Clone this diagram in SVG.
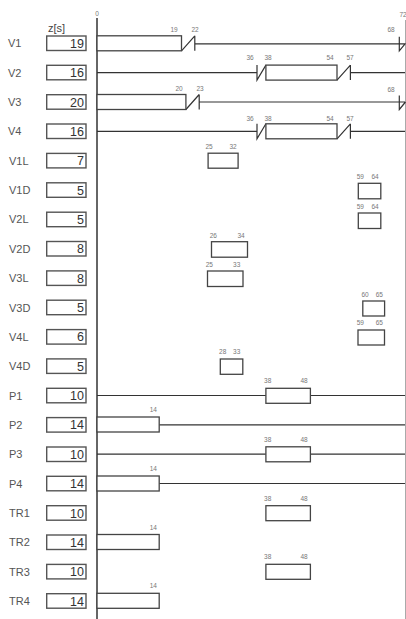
<svg xmlns="http://www.w3.org/2000/svg" width="406" height="619" viewBox="0 0 406 619">
<style>
.bg{fill:#fff}
.lbl{font-family:"Liberation Sans",Arial,sans-serif;font-size:11px;fill:#555}
.val{font-family:"Liberation Sans",Arial,sans-serif;font-size:12.5px;fill:#333;text-anchor:end}
.hd{font-family:"Liberation Sans",Arial,sans-serif;font-size:11px;fill:#444}
.t{font-family:"Liberation Sans",Arial,sans-serif;font-size:6.5px;fill:#777;text-anchor:middle}
.vb{fill:#fff;stroke:#555;stroke-width:1.4}
.bx{fill:#fff;stroke:#444;stroke-width:1.3}
.ln{fill:none;stroke:#333;stroke-width:1.2}
.ax{stroke:#333;stroke-width:1.5}
.rb{stroke:#aaa;stroke-width:1}
</style>
<rect class="bg" x="0" y="0" width="406" height="619"/>
<g id="axes">
<line class="ax" x1="97" y1="18" x2="97" y2="619"/>
<line class="rb" x1="405.5" y1="20" x2="405.5" y2="619"/>
<text class="t" x="97" y="15.5">0</text>
<text class="t" x="403" y="17">72</text>
<text class="hd" x="48" y="32">z[s]</text>
</g>
<g id="connectors">
<!-- V1 -->
<path class="ln" d="M181.5,50.8 L194.8,35.8 M194.8,35.8 V50.8 M194.8,43.8 H405 M399.3,36.8 V50.8 L405.5,43.3"/>
<!-- V2 -->
<path class="ln" d="M97,72.6 H257 M257,65.1 V80.1 L265.9,65.1 M337,80.1 L350.4,65.1 M350.4,65.1 V80.1 M350.4,72.6 H405"/>
<!-- V3 -->
<path class="ln" d="M185.9,109.5 L199.2,94.5 M199.2,94.5 V109.5 M199.2,102 H405 M399.3,95.5 V109.5 L405.5,102"/>
<!-- V4 -->
<path class="ln" d="M97,131.3 H257 M257,123.8 V138.8 L265.9,123.8 M337,138.8 L350.4,123.8 M350.4,123.8 V138.8 M350.4,131.3 H405"/>
<!-- P1 -->
<path class="ln" d="M97,395.5 H265.9 M310.4,395.5 H405"/>
<!-- P2 -->
<path class="ln" d="M159.2,424.8 H405"/>
<!-- P3 -->
<path class="ln" d="M97,454.2 H265.9 M310.4,454.2 H405"/>
<!-- P4 -->
<path class="ln" d="M159.2,483.5 H405"/>
</g>
<g id="V1">
<text class="lbl" x="8" y="47.3">V1</text>
<rect class="vb" x="46.7" y="36" width="39.3" height="14.5"/>
<text class="val" x="84" y="47.8">19</text>
<rect class="bx" x="97" y="35.8" width="84.5" height="15"/>
<text class="t" x="174" y="31.5">19</text><text class="t" x="195" y="31.5">22</text><text class="t" x="391" y="31.5">68</text>
</g>
<g id="V2">
<text class="lbl" x="8" y="76.6">V2</text>
<rect class="vb" x="46.7" y="65.3" width="39.3" height="14.5"/>
<text class="val" x="84" y="77.1">16</text>
<rect class="bx" x="265.9" y="65.1" width="71.1" height="15"/>
<text class="t" x="250" y="60">36</text><text class="t" x="268" y="60">38</text><text class="t" x="330" y="60">54</text><text class="t" x="350" y="60">57</text>
</g>
<g id="V3">
<text class="lbl" x="8" y="106">V3</text>
<rect class="vb" x="46.7" y="94.7" width="39.3" height="14.5"/>
<text class="val" x="84" y="106.5">20</text>
<rect class="bx" x="97" y="94.5" width="88.9" height="15"/>
<text class="t" x="179" y="90.5">20</text><text class="t" x="200" y="90.5">23</text><text class="t" x="391" y="91.5">68</text>
</g>
<g id="V4">
<text class="lbl" x="8" y="135.3">V4</text>
<rect class="vb" x="46.7" y="124" width="39.3" height="14.5"/>
<text class="val" x="84" y="135.8">16</text>
<rect class="bx" x="265.9" y="123.8" width="71.1" height="15"/>
<text class="t" x="250" y="120.5">36</text><text class="t" x="268" y="120.5">38</text><text class="t" x="330" y="120.5">54</text><text class="t" x="350" y="120.5">57</text>
</g>
<g id="V1L">
<text class="lbl" x="9" y="164.7">V1L</text>
<rect class="vb" x="46.7" y="153.4" width="39.3" height="14.5"/>
<text class="val" x="84" y="165.2">7</text>
<rect class="bx" x="208.1" y="153.2" width="30" height="15"/>
<text class="t" x="209" y="149">25</text><text class="t" x="233" y="149">32</text>
</g>
<g id="V1D">
<text class="lbl" x="9" y="194">V1D</text>
<rect class="vb" x="46.7" y="182.8" width="39.3" height="14.5"/>
<text class="val" x="84" y="194.6">5</text>
<rect class="bx" x="358.3" y="183.3" width="22.5" height="15.5"/>
<text class="t" x="360.3" y="178.5">59</text><text class="t" x="375" y="178.5">64</text>
</g>
<g id="V2L">
<text class="lbl" x="9" y="223.4">V2L</text>
<rect class="vb" x="46.7" y="212.2" width="39.3" height="14.5"/>
<text class="val" x="84" y="224">5</text>
<rect class="bx" x="358.3" y="213" width="22.5" height="15.5"/>
<text class="t" x="360.3" y="208.5">59</text><text class="t" x="375" y="208.5">64</text>
</g>
<g id="V2D">
<text class="lbl" x="9" y="252.8">V2D</text>
<rect class="vb" x="46.7" y="241.5" width="39.3" height="14.5"/>
<text class="val" x="84" y="253.3">8</text>
<rect class="bx" x="211.5" y="241.7" width="36" height="15.5"/>
<text class="t" x="213.3" y="237.5">26</text><text class="t" x="241" y="237.5">34</text>
</g>
<g id="V3L">
<text class="lbl" x="9" y="282.1">V3L</text>
<rect class="vb" x="46.7" y="270.9" width="39.3" height="14.5"/>
<text class="val" x="84" y="282.6">8</text>
<rect class="bx" x="207.5" y="271" width="35.5" height="15.5"/>
<text class="t" x="209.3" y="266.8">25</text><text class="t" x="236.7" y="266.8">33</text>
</g>
<g id="V3D">
<text class="lbl" x="9" y="311.5">V3D</text>
<rect class="vb" x="46.7" y="300.2" width="39.3" height="14.5"/>
<text class="val" x="84" y="312">5</text>
<rect class="bx" x="362.8" y="301" width="21.8" height="15"/>
<text class="t" x="365" y="296.5">60</text><text class="t" x="379.3" y="296.5">65</text>
</g>
<g id="V4L">
<text class="lbl" x="9" y="340.8">V4L</text>
<rect class="vb" x="46.7" y="329.6" width="39.3" height="14.5"/>
<text class="val" x="84" y="341.3">6</text>
<rect class="bx" x="358" y="330" width="26.5" height="15"/>
<text class="t" x="360.3" y="325">59</text><text class="t" x="379.3" y="325">65</text>
</g>
<g id="V4D">
<text class="lbl" x="9" y="370.2">V4D</text>
<rect class="vb" x="46.7" y="358.9" width="39.3" height="14.5"/>
<text class="val" x="84" y="370.7">5</text>
<rect class="bx" x="220.3" y="359" width="22.5" height="15.3"/>
<text class="t" x="222.7" y="354">28</text><text class="t" x="236.7" y="354">33</text>
</g>
<g id="P1">
<text class="lbl" x="9" y="399.5">P1</text>
<rect class="vb" x="46.7" y="388.3" width="39.3" height="14.5"/>
<text class="val" x="84" y="400">10</text>
<rect class="bx" x="265.9" y="388.3" width="44.5" height="15"/>
<text class="t" x="267.7" y="383">38</text><text class="t" x="304" y="383">48</text>
</g>
<g id="P2">
<text class="lbl" x="9" y="428.9">P2</text>
<rect class="vb" x="46.7" y="417.6" width="39.3" height="14.5"/>
<text class="val" x="84" y="429.4">14</text>
<rect class="bx" x="97" y="417" width="62.2" height="15"/>
<text class="t" x="153.3" y="411.5">14</text>
</g>
<g id="P3">
<text class="lbl" x="9" y="458.2">P3</text>
<rect class="vb" x="46.7" y="447" width="39.3" height="14.5"/>
<text class="val" x="84" y="458.8">10</text>
<rect class="bx" x="265.9" y="446.8" width="44.5" height="15"/>
<text class="t" x="267.7" y="441.8">38</text><text class="t" x="304" y="441.8">48</text>
</g>
<g id="P4">
<text class="lbl" x="9" y="487.6">P4</text>
<rect class="vb" x="46.7" y="476.3" width="39.3" height="14.5"/>
<text class="val" x="84" y="488.1">14</text>
<rect class="bx" x="97" y="476" width="62.2" height="15"/>
<text class="t" x="153.3" y="470.8">14</text>
</g>
<g id="TR1">
<text class="lbl" x="9" y="516.9">TR1</text>
<rect class="vb" x="46.7" y="505.7" width="39.3" height="14.5"/>
<text class="val" x="84" y="517.5">10</text>
<rect class="bx" x="265.9" y="505.7" width="44.5" height="15"/>
<text class="t" x="267.7" y="500.8">38</text><text class="t" x="304" y="500.8">48</text>
</g>
<g id="TR2">
<text class="lbl" x="9" y="546.3">TR2</text>
<rect class="vb" x="46.7" y="535" width="39.3" height="14.5"/>
<text class="val" x="84" y="546.8">14</text>
<rect class="bx" x="97" y="534.5" width="62.2" height="15"/>
<text class="t" x="153.3" y="529.8">14</text>
</g>
<g id="TR3">
<text class="lbl" x="9" y="575.6">TR3</text>
<rect class="vb" x="46.7" y="564.4" width="39.3" height="14.5"/>
<text class="val" x="84" y="576.2">10</text>
<rect class="bx" x="265.9" y="564.3" width="44.5" height="15"/>
<text class="t" x="267.7" y="559">38</text><text class="t" x="304" y="559">48</text>
</g>
<g id="TR4">
<text class="lbl" x="9" y="605">TR4</text>
<rect class="vb" x="46.7" y="593.7" width="39.3" height="14.5"/>
<text class="val" x="84" y="605.5">14</text>
<rect class="bx" x="97" y="593.3" width="62.2" height="15"/>
<text class="t" x="153.3" y="588">14</text>
</g>
</svg>
